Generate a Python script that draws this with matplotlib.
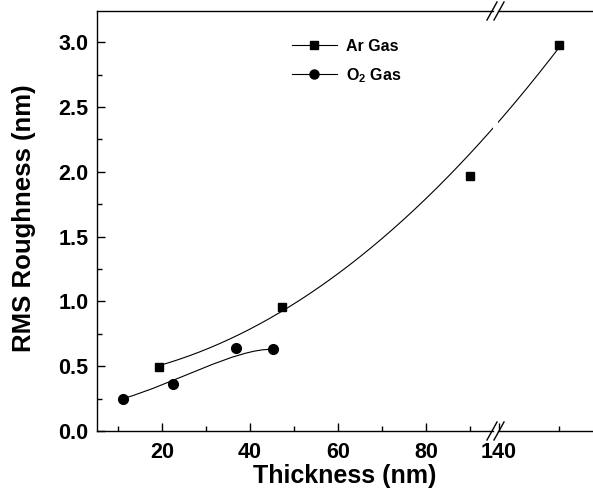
import matplotlib
matplotlib.use("Agg")
import matplotlib.pyplot as plt
import numpy as np
from matplotlib.lines import Line2D
from matplotlib.path import Path
from matplotlib.patches import PathPatch

plt.rcParams["font.family"] = "Liberation Sans"
plt.rcParams["font.weight"] = "bold"
plt.rcParams["mathtext.fontset"] = "custom"
plt.rcParams["mathtext.rm"] = "Liberation Sans:bold"
plt.rcParams["mathtext.bf"] = "Liberation Sans:bold"
plt.rcParams["mathtext.default"] = "bf"

# data
ar_x = [19.3, 47.3, 90.0, 150.0]
ar_y = [0.49, 0.96, 1.97, 2.98]
o2_x = [11.1, 22.5, 36.8, 45.2]
o2_y = [0.25, 0.36, 0.64, 0.63]

yticks = [0.0, 0.5, 1.0, 1.5, 2.0, 2.5, 3.0]
xticks_left = [20, 40, 60, 80]
xticks_right = [140]

W, H = 593, 504
fig = plt.figure(figsize=(W / 100, H / 100), dpi=100)

left_pos = [97 / W, 1 - 431 / H, (493 - 97) / W, 420 / H]
right_pos = [498 / W, 1 - 431 / H, (W - 498) / W, 420 / H]
ax1 = fig.add_axes(left_pos)
ax2 = fig.add_axes(right_pos)

ax1.set_xlim(5.2, 95.2)
ax2.set_xlim(139.83, 155.67)
for ax in (ax1, ax2):
    ax.set_ylim(0, 3.24)
    for s in ax.spines.values():
        s.set_linewidth(1.0)
    ax.tick_params(which="both", direction="in", top=False, right=False,
                   labelsize=15.5, width=1.0, pad=8)
    ax.tick_params(which="major", length=6)
    ax.tick_params(which="minor", length=3.5)

ax1.spines["right"].set_visible(False)
ax2.spines["left"].set_visible(False)
ax2.spines["right"].set_visible(False)
ax2.tick_params(axis="y", left=False, labelleft=False, which="both")

ax1.set_xticks(xticks_left)
ax1.set_xticks([10, 30, 50, 70, 90], minor=True)
ax1.set_yticks(yticks)
ax1.set_yticklabels([f"{v:.1f}" for v in yticks])
ax1.set_yticks(np.arange(0.25, 3.2, 0.5), minor=True)
ax1.tick_params(axis="y", pad=6)
ax2.set_xticks(xticks_right)
ax2.set_xticks([150], minor=True)

# points
ms_sq, ms_ci = 6, 7
for x, y in zip(ar_x, ar_y):
    ax = ax2 if x > 100 else ax1
    ax.plot(x, y, "s", color="k", ms=ms_sq, clip_on=False)
for x, y in zip(o2_x, o2_y):
    ax1.plot(x, y, "o", color="k", ms=ms_ci, clip_on=False)

# Ar fit curve, fitted in display x so it runs across the broken axis
disp = np.array([(ax2 if x > 100 else ax1).transData.transform((x, y))[0]
                 for x, y in zip(ar_x, ar_y)])
coef = np.polyfit(disp, ar_y, 2, w=[2, 2, 1, 2])
dx = np.linspace(disp[0], disp[-1], 400)
dy = np.polyval(coef, dx)
for ax in (ax1, ax2):
    inv = ax.transData.inverted()
    xx = inv.transform(np.column_stack([dx, np.zeros_like(dx)]))[:, 0]
    ax.plot(xx, dy, color="k", lw=0.8)

# O2 smooth curve (bezier through the data)
verts = list(zip(o2_x, o2_y))
codes = [Path.MOVETO, Path.CURVE4, Path.CURVE4, Path.CURVE4]
ax1.add_patch(PathPatch(Path(verts, codes), fill=False, lw=0.8, color="k"))

# broken axis marks
xb = (493 + 498) / 2 / W
for yb in (1 - 11 / H, 1 - 431 / H):
    for off in (-3.5 / W, 3.5 / W):
        fig.add_artist(Line2D([xb + off - 5 / W, xb + off + 5 / W],
                              [yb - 9 / H, yb + 9 / H],
                              transform=fig.transFigure, color="k", lw=1.0))

fig.text(24 / W, 1 - 218 / H, "RMS Roughness (nm)", fontsize=18.5,
         fontweight="bold", rotation=90, ha="center", va="center")
fig.text(345 / W, 1 - 476 / H, "Thickness (nm)", fontsize=18,
         fontweight="bold", ha="center", va="center")

handles = [Line2D([], [], color="k", marker="s", ms=ms_sq - 0.5, lw=0.8),
           Line2D([], [], color="k", marker="o", ms=ms_ci - 0.5, lw=0.8)]
fig.legend(handles, ["Ar Gas", "O$_2$ Gas"], loc="upper left",
           bbox_to_anchor=(292 / W, 1 - 39 / H), frameon=False,
           fontsize=11.5, handlelength=2.8, handletextpad=0.6,
           labelspacing=0.75, borderpad=0, borderaxespad=0)

fig.savefig("out.png", dpi=100)
